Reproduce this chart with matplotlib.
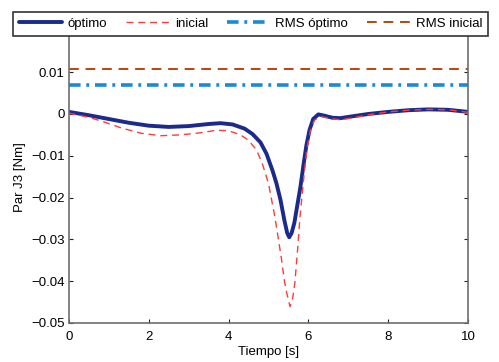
import matplotlib
matplotlib.use("Agg")
import matplotlib.pyplot as plt

plt.rcParams['font.family'] = ['Liberation Sans', 'DejaVu Sans']

# Data
t_opt = [0, 0.5, 1.0, 1.5, 2.0, 2.5, 3.0, 3.5, 3.8, 4.1, 4.4, 4.6, 4.8, 4.95, 5.1, 5.2,
         5.3, 5.4, 5.47, 5.52, 5.58, 5.65, 5.72, 5.8, 5.88, 5.95, 6.03, 6.12, 6.25, 6.4,
         6.6, 6.8, 7.0, 7.5, 8.0, 8.5, 9.0, 9.5, 10]
y_opt = [0.0005, -0.0003, -0.0012, -0.0021, -0.0028, -0.0031, -0.0029, -0.0024, -0.0022,
         -0.0025, -0.0035, -0.0048, -0.0068, -0.0095, -0.0135, -0.0166, -0.0205, -0.0255,
         -0.0285, -0.0295, -0.0285, -0.026, -0.022, -0.0175, -0.012, -0.0075, -0.0038,
         -0.0012, -0.0001, -0.0004, -0.0009, -0.0010, -0.0007, 0.0000, 0.0005, 0.0009,
         0.0011, 0.0010, 0.0005]

t_ini = [0, 0.5, 0.85, 1.3, 1.8, 2.3, 2.8, 3.3, 3.7, 4.0, 4.3, 4.5, 4.7, 4.85, 5.0, 5.16,
         5.25, 5.33, 5.4, 5.46, 5.54, 5.6, 5.66, 5.73, 5.79, 5.87, 5.96, 6.05, 6.15, 6.3,
         6.5, 6.8, 7.0, 7.5, 8.0, 8.5, 9.0, 9.5, 10]
y_ini = [0.0002, -0.0008, -0.0018, -0.0033, -0.0046, -0.0052, -0.0050, -0.0045, -0.0039,
         -0.0040, -0.0050, -0.0063, -0.0086, -0.012, -0.0166, -0.0246, -0.030, -0.035,
         -0.040, -0.0429, -0.0461, -0.0445, -0.0405, -0.0325, -0.0246, -0.0166, -0.0086,
         -0.0040, -0.0015, -0.0006, -0.0010, -0.0014, -0.0011, -0.0002, 0.0005, 0.0009,
         0.0011, 0.0010, 0.0004]

rms_opt = 0.0070
rms_ini = 0.0108
t_range = [0, 10]

labels = ['óptimo', 'inicial', 'RMS óptimo', 'RMS inicial']
xticks = [0, 2, 4, 6, 8, 10]
yticks = [-0.05, -0.04, -0.03, -0.02, -0.01, 0, 0.01]
ytick_labels = ['\u22120.05', '\u22120.04', '\u22120.03', '\u22120.02', '\u22120.01', '0', '0.01']

fig = plt.figure(figsize=(4.99, 3.62), dpi=100)
ax = fig.add_axes([0.138, 0.108, 0.800, 0.808])

l1, = ax.plot(t_opt, y_opt, color='#1c2a8c', lw=2.8, solid_capstyle='round')
l2, = ax.plot(t_ini, y_ini, color='#ff3b3b', lw=1.0, ls=(0, (5, 3.5)))
l3, = ax.plot(t_range, [rms_opt, rms_opt], color='#1a8ad4', lw=2.6, ls=(0, (3.2, 1.6, 0.8, 1.6)))
l4, = ax.plot(t_range, [rms_ini, rms_ini], color='#b84510', lw=1.4, ls=(0, (5, 3.5)))

ax.set_xlim(0, 10)
ax.set_ylim(-0.05, 0.02)
ax.set_xticks(xticks)
ax.set_xticklabels([str(v) for v in xticks])
ax.set_yticks(yticks)
ax.set_yticklabels(ytick_labels)
ax.tick_params(direction='in', top=True, right=True, labelsize=9.5, length=3,
               color='#222222', pad=3)
ax.tick_params(axis='x', pad=6)
for s in ax.spines.values():
    s.set_color('#6e6e6e')
    s.set_linewidth(1.2)

ax.set_xlabel('Tiempo [s]', fontsize=9.5, labelpad=2)
ax.set_ylabel('Par J3 [Nm]', fontsize=9.5, labelpad=4)

leg = fig.legend([l1, l2, l3, l4], labels, loc='lower left',
                 bbox_to_anchor=(0.026, 0.9006, 0.952, 0.0856), mode='expand', ncol=4,
                 fontsize=9.5, frameon=True, fancybox=False, handlelength=3.3,
                 handletextpad=0.4, columnspacing=1.0, borderaxespad=0, borderpad=0.45)
leg.get_frame().set_edgecolor('#333333')
leg.get_frame().set_linewidth(1.2)
leg.get_frame().set_alpha(1)

fig.savefig('out.png', dpi=100)
